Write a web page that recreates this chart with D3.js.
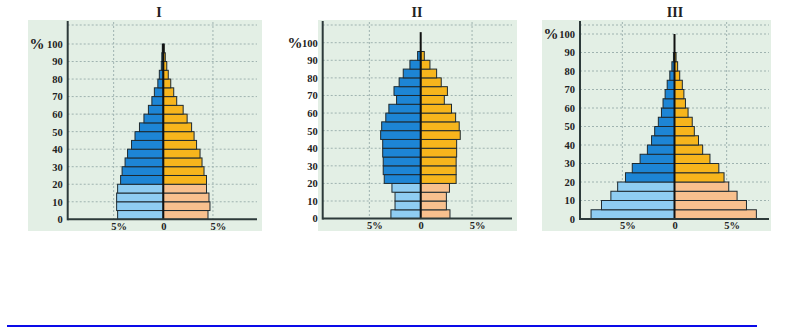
<!DOCTYPE html>
<html>
<head>
<meta charset="utf-8">
<script src="https://cdn.jsdelivr.net/npm/d3@7"></script>
<style>
  body { margin: 0; background: #fff; }
  svg { display: block; }
  text { font-family: "Liberation Serif", "DejaVu Serif", serif; fill: #222; }
</style>
</head>
<body>
<svg id="chart" width="812" height="327"></svg>
<script>
// age bands start at 0,5,10,... ; values are % of population
var ageStarts = d3.range(0, 100, 5);
var yTicks = d3.range(0, 101, 10);
var xTicks = [-5, 0, 5];
var xTickLabels = ['5%', '0', '5%'];
var titles = ['I', 'II', 'III'];

var male1   = [4.6, 4.7, 4.7, 4.6, 4.3, 4.15, 3.85, 3.6, 3.2, 2.85, 2.4, 1.95, 1.5, 1.15, 0.9, 0.55, 0.4, 0.2, 0.15, 0.1];
var female1 = [4.5, 4.7, 4.6, 4.35, 4.35, 4.1, 3.9, 3.7, 3.35, 3.1, 2.85, 2.4, 2.0, 1.35, 1.05, 0.75, 0.5, 0.35, 0.2, 0.1];

var male2   = [2.9, 2.5, 2.5, 2.8, 3.55, 3.65, 3.65, 3.7, 3.7, 3.9, 3.8, 3.4, 3.1, 2.35, 2.6, 2.1, 1.7, 1.05, 0.3];
var female2 = [2.85, 2.5, 2.5, 2.8, 3.45, 3.45, 3.45, 3.5, 3.5, 3.85, 3.75, 3.4, 3.0, 2.3, 2.6, 2.0, 1.55, 0.9, 0.35];

var male3   = [8.0, 7.0, 6.1, 5.45, 4.7, 4.05, 3.3, 2.6, 2.2, 1.9, 1.55, 1.25, 1.1, 0.9, 0.7, 0.45, 0.25, 0.1];
var female3 = [7.85, 6.9, 6.0, 5.2, 4.75, 4.25, 3.4, 2.7, 2.3, 1.9, 1.7, 1.3, 1.05, 0.9, 0.75, 0.5, 0.3, 0.15];

var stickTop = [100, 106, 100];

var colors = {
  maleYoung: '#8fcdf2', maleOld: '#1d85d5',
  femaleYoung: '#f8c08e', femaleOld: '#f7b51c'
};

// layout of each little panel (pixels)
var panels = [
  { male: male1, female: female1, bg: [28, 20, 262, 231], axisX: 67.7, zeroX: 163.3, axisRight: 257, px: 9.93, y0: 219.3, y100: 44, titleX: 159, pctX: 37 },
  { male: male2, female: female2, bg: [318, 20, 517, 231], axisX: 322.7, zeroX: 420.7, axisRight: 512, px: 10.27, y0: 218.6, y100: 42.7, titleX: 417, pctX: 295 },
  { male: male3, female: female3, bg: [542, 20, 771, 231], axisX: 580, zeroX: 674.5, axisRight: 769, px: 10.43, y0: 219, y100: 34, titleX: 675, pctX: 551 }
];

var svg = d3.select('#chart');

panels.forEach(function(p, i) {
  var g = svg.append('g');

  var x = d3.scaleLinear()
    .domain([-(p.zeroX - p.axisX) / p.px, (p.axisRight - p.zeroX) / p.px])
    .range([p.axisX, p.axisRight]);
  var y = d3.scaleLinear().domain([0, 100]).range([p.y0, p.y100]);

  g.append('rect')
    .attr('x', p.bg[0]).attr('y', p.bg[1])
    .attr('width', p.bg[2] - p.bg[0]).attr('height', p.bg[3] - p.bg[1])
    .attr('fill', '#e3efe5');

  // dotted grid
  var hLines = yTicks.filter(function(t) { return t > 0; });
  g.selectAll('.hgrid')
    .data(hLines)
    .enter().append('line')
    .attr('x1', p.axisX).attr('x2', p.axisRight)
    .attr('y1', function(d) { return y(d); })
    .attr('y2', function(d) { return y(d); })
    .attr('stroke', '#9fb3b0').attr('stroke-width', 1)
    .attr('stroke-dasharray', '2,2');
  g.append('line')
    .attr('x1', p.axisX).attr('x2', p.axisRight)
    .attr('y1', 25).attr('y2', 25)
    .attr('stroke', '#9fb3b0').attr('stroke-dasharray', '2,2');
  g.selectAll('.vgrid')
    .data([-5, 5])
    .enter().append('line')
    .attr('x1', function(d) { return x(d); })
    .attr('x2', function(d) { return x(d); })
    .attr('y1', 22).attr('y2', p.y0)
    .attr('stroke', '#9fb3b0').attr('stroke-dasharray', '2,2');

  var bands = p.male.map(function(m, k) {
    return { age: ageStarts[k], male: m, female: p.female[k] };
  });

  g.selectAll('.m')
    .data(bands)
    .enter().append('rect')
    .attr('x', function(d) { return x(-d.male); })
    .attr('y', function(d) { return y(d.age + 5); })
    .attr('width', function(d) { return x(0) - x(-d.male); })
    .attr('height', function(d) { return y(d.age) - y(d.age + 5); })
    .attr('fill', function(d) { return d.age < 20 ? colors.maleYoung : colors.maleOld; })
    .attr('stroke', '#1e2a30').attr('stroke-width', 1);

  g.selectAll('.f')
    .data(bands)
    .enter().append('rect')
    .attr('x', x(0))
    .attr('y', function(d) { return y(d.age + 5); })
    .attr('width', function(d) { return x(d.female) - x(0); })
    .attr('height', function(d) { return y(d.age) - y(d.age + 5); })
    .attr('fill', function(d) { return d.age < 20 ? colors.femaleYoung : colors.femaleOld; })
    .attr('stroke', '#1e2a30').attr('stroke-width', 1);

  // centre line
  g.append('line')
    .attr('x1', x(0)).attr('x2', x(0))
    .attr('y1', p.y0).attr('y2', y(stickTop[i]))
    .attr('stroke', '#111').attr('stroke-width', 2);

  // axes lines
  g.append('line')
    .attr('x1', p.axisX).attr('x2', p.axisX)
    .attr('y1', 21).attr('y2', p.y0 + 1)
    .attr('stroke', '#2d3a3a').attr('stroke-width', 2);
  g.append('line')
    .attr('x1', p.axisX).attr('x2', p.axisRight)
    .attr('y1', p.y0).attr('y2', p.y0)
    .attr('stroke', '#2d3a3a').attr('stroke-width', 2);

  var yAxis = d3.axisLeft(y).tickValues(yTicks).tickSize(0).tickPadding(5);
  var ya = g.append('g').attr('transform', 'translate(' + p.axisX + ',0)').call(yAxis);
  ya.select('.domain').remove();
  ya.selectAll('text')
    .style('font-family', '"Liberation Serif", serif')
    .style('font-size', '10.5px').style('font-weight', 'bold').attr('fill', '#2a2a2a');

  var xAxis = d3.axisBottom(x).tickValues(xTicks).tickSize(0).tickPadding(3)
    .tickFormat(function(d, k) { return xTickLabels[k]; });
  var xa = g.append('g').attr('transform', 'translate(0,' + p.y0 + ')').call(xAxis);
  xa.select('.domain').remove();
  xa.selectAll('text')
    .attr('dx', function(d) { return d === 0 ? 0 : 5; })
    .style('font-family', '"Liberation Serif", serif')
    .style('font-size', '10.5px').style('font-weight', 'bold').attr('fill', '#2a2a2a');

  g.append('text')
    .attr('x', p.pctX).attr('y', y(100) + 5)
    .attr('text-anchor', 'middle')
    .style('font-size', '15px').style('font-weight', 'bold')
    .text('%');

  g.append('text')
    .attr('x', p.titleX).attr('y', 17)
    .attr('text-anchor', 'middle')
    .style('font-size', '14px').style('font-weight', 'bold')
    .text(titles[i]);
});

svg.append('rect')
  .attr('x', 7).attr('y', 325).attr('width', 750).attr('height', 2)
  .attr('fill', '#0a0ae8');
</script>
</body>
</html>
